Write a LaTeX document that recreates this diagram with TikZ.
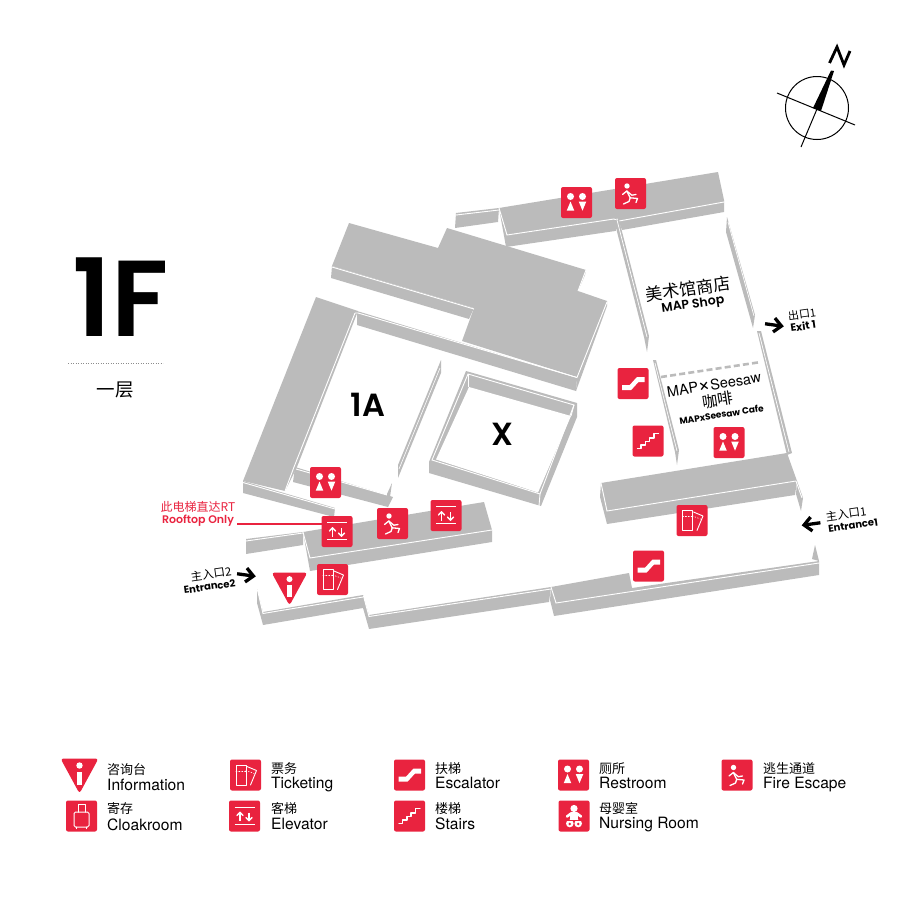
\documentclass[tikz,border=0pt]{standalone}
\usepackage{fontspec}
\setmainfont{TeX Gyre Heros}
\newfontfamily\cjk{Noto Sans CJK SC}
\newfontfamily\pop{Poppins}
\newfontfamily\popsb{Poppins SemiBold}
\definecolor{wallgrey}{HTML}{BBBBBB}
\definecolor{signred}{HTML}{E9233F}
\newcommand{\fsz}[1]{\fontsize{#1}{#1}\selectfont}
\tikzset{
  wall/.style={fill=wallgrey,draw=none},
  seam/.style={draw=white,line width=.9pt},
  inner/.style={fill=white,draw=none},
  wln/.style={draw=white,line width=1.2pt,line cap=round,line join=round},
  wfill/.style={fill=white,draw=none},
  iconbox/.style={fill=signred,rounded corners=2pt,draw=none},
  lab/.style={inner sep=0pt,anchor=center,align=center},
  legzh/.style={inner sep=0pt,anchor=base west,font=\cjk\fsz{13}},
  legen/.style={inner sep=0pt,anchor=base west,font=\fsz{15.6}},
  pics/iconrest/.style={code={
    \fill[iconbox] (-15.5,-15.5) rectangle (15.5,15.5);
    \fill[wfill] (-6,-6) circle (3.5) (6,-6) circle (3.5);
    \fill[wfill] (-9.8,8.2) -- (-2.2,8.2) -- (-6,-1) -- cycle;
    \fill[wfill] (2.2,-1) -- (9.8,-1) -- (6,8.2) -- cycle;
  }},
  pics/iconfire/.style={code={
    \fill[iconbox] (-15.5,-15.5) rectangle (15.5,15.5);
    \fill[wfill] (-3.5,-7.5) circle (2.7);
    \draw[wln,line width=1.3pt] (-8,1) -- (-3.7,-2.5) -- (-0.3,4.3) -- (7,5) -- (5.5,9);
    \draw[wln,line width=1.3pt] (-3.7,-2.5) -- (1.3,1.7) -- (5.5,1);
    \draw[wln,line width=1.3pt] (-0.3,4.3) -- (-1.5,8) -- (-7,10.5);
  }},
  pics/iconesc/.style={code={
    \fill[iconbox] (-15.5,-15.5) rectangle (15.5,15.5);
    \fill[wfill] (-11,1.7) -- (-3.5,1.7) -- (4,-6.5) -- (11.5,-6.5) -- (11.5,-1.5) -- (5.5,-1.5) -- (-2,6.7) -- (-11,6.7) -- cycle;
  }},
  pics/iconstairs/.style={code={
    \fill[iconbox] (-15.5,-15.5) rectangle (15.5,15.5);
    \draw[wln] (-10.5,7.5) -- (-7,7.5) -- (-7,4) -- (-2.5,4) -- (-2.5,0.5) -- (1.5,0.5) -- (1.5,-3) -- (6,-3) -- (6,-7.5) -- (10.5,-7.5);
  }},
  pics/iconelev/.style={code={
    \fill[iconbox] (-15.5,-15.5) rectangle (15.5,15.5);
    \draw[wln,line cap=butt] (-10,-8.7) -- (10,-8.7) (-10,8.2) -- (10,8.2);
    \draw[wln,line cap=butt,line width=1.4pt] (-4.5,5) -- (-4.5,-3) (4.5,-3.5) -- (4.5,4.5);
    \draw[wln,line width=1.4pt] (-7.5,-0.5) -- (-4.5,-3.7) -- (-1.5,-0.5) (1.5,1.5) -- (4.5,4.7) -- (7.5,1.5);
  }},
  pics/iconticket/.style={code={
    \fill[iconbox] (-15.5,-15.5) rectangle (15.5,15.5);
    \draw[wln,line width=.9pt] (-9.5,-10) rectangle (0.5,10);
    \draw[wln,line width=.9pt,dotted] (-9.5,-4) -- (0.5,-4);
    \draw[wln,line width=.9pt] (1.5,-8.5) -- (11,-4.5) -- (5,10);
    \draw[wln,line width=.7pt,dotted] (0.5,-4.5) -- (8.5,-1.5);
  }},
  pics/iconbag/.style={code={
    \fill[iconbox] (-15.5,-15.5) rectangle (15.5,15.5);
    \draw[wln,line width=1pt,rounded corners=1.5pt] (-7.5,-4) rectangle (7.5,11);
    \draw[wln,line width=1pt] (-3.5,-4) -- (-3.5,-11.5) -- (3.5,-11.5) -- (3.5,-4);
    \draw[wln,line width=1pt] (-5,11) -- (-5,12.5) (5,11) -- (5,12.5);
  }},
  pics/iconbaby/.style={code={
    \fill[iconbox] (-15.5,-15.5) rectangle (15.5,15.5);
    \fill[wfill] (0,-7.5) circle (3.6);
    \draw[wln,line width=2.6pt] (-7,0.5) -- (-3,-2.5) -- (3,-2.5) -- (7,0.5);
    \fill[wfill] (-4.2,-3) rectangle (4.2,3.5);
    \fill[wfill] (-4.2,7.5) circle (3.8) (4.2,7.5) circle (3.8);
    \fill[signred] (-4.2,8) circle (1.4) (4.2,8) circle (1.4);
    \draw[signred,line width=.8pt] (-7,4) -- (7,4);
  }},
  pics/iconinfo/.style={code={
    \fill[signred,rounded corners=3pt] (-19,-1) -- (19,-1) -- (0,34) -- cycle;
    \fill[wfill] (0,6) circle (3.2);
    \fill[wfill] (-2.5,12.5) rectangle (2.5,25);
  }},
  pics/guidearrow/.style={code={
    \draw[black,line width=3.3pt,line join=miter] (-9,0) -- (7,0);
    \draw[black,line width=3.3pt,line join=miter] (0,-7) -- (7.5,0) -- (0,7);
  }}
}
\begin{document}
\begin{tikzpicture}[x=1pt,y=-1pt]
\useasboundingbox (0,0) rectangle (900,900);

% upper block
\fill[wall] (349,223) -- (438,248) -- (447,228) -- (586,270) -- (578,291) -- (607,301) -- (577,377) -- (462,341) -- (474,308) -- (332,266) -- cycle;
\fill[wall] (332,266) -- (474,308) -- (469,319) -- (331,278) -- cycle;
\fill[wall] (586,270) -- (585,275) -- (578,291) -- cycle;
\fill[wall] (357,311) -- (577,378) -- (576,391) -- (357,325) -- cycle;
\fill[wall] (607,301) -- (607,306) -- (576,391) -- (577,377) -- cycle;
\draw[seam] (332,267) -- (474,309);
\draw[seam] (358,313) -- (577,377.5) -- (607,302);
\draw[seam] (586,270) -- (578,291);

% L block
\fill[wall] (316,297) -- (358,311) -- (297,467) -- (285,491) -- (243,481) -- cycle;
\fill[wall] (243,481) -- (335,508) -- (334,517) -- (243,493) -- cycle;
\draw[seam] (243,482.5) -- (335,509);
\draw[seam] (355,313) -- (358,313) (355,313) -- (294,467);
\fill[wall] (295,467) -- (393,497) -- (388,507) -- (293,482) -- cycle;
\draw[seam] (296,469) -- (387,495) -- (391,485);
\fill[wall] (392,483) -- (390,497) -- (387,507) -- (387,494) -- cycle;
\draw[seam] (294,467) -- (285,491);
% thin wall 1A right
\fill[wall] (441,360) -- (441,373) -- (398,478) -- (398,465) -- cycle;
\draw[draw=white,line width=.6pt] (440,368) -- (399,469);

% X room
\fill[wall] (466,371) -- (577,403) -- (577,417) -- (541,506) -- (429,473) -- (429,462) -- cycle;
\fill[inner] (469,387) -- (571,416) -- (538,492.5) -- (436,459.5) -- cycle;
\draw[seam] (468,374) -- (574,405) -- (540,494) -- (432,460) -- cycle;
\draw[seam] (540,494) -- (539,506);
\draw[seam] (468,374) -- (468,387);
\draw[seam] (574,405) -- (571,416);

% top corridor
\fill[wall] (456,213) -- (499,208) -- (498,222) -- (455,228) -- cycle;
\draw[seam] (456,215) -- (499,210);
\fill[wall] (499,208) -- (718,172) -- (724,200) -- (724,212) -- (622,230) -- (506,247) -- cycle;
\draw[seam] (499,208) -- (507,235) -- (614,219) -- (619,221) -- (724,202);
\fill[inner] (616,232) -- (622,230) -- (617,218) -- cycle;
% shop walls
\fill[wall] (614,220) -- (619,220) -- (649,336) -- (647,352) -- (644,337) -- cycle;
\draw[draw=white,line width=.7pt] (617,220) -- (647,337);
\fill[wall] (727,217) -- (755,315) -- (753,328) -- (726,232) -- cycle;
\draw[draw=white,line width=.7pt] (728,222) -- (754,316);
% cafe walls
\fill[wall] (653,360) -- (656,360) -- (679,450) -- (677,465) -- (675,452) -- cycle;
\draw[draw=white,line width=.7pt] (655,363) -- (677,451);
\fill[wall] (757,331) -- (761,331) -- (792,453) -- (787,455) -- cycle;
\draw[draw=white,line width=.7pt] (759,333) -- (789,452);
\draw[wallgrey,line width=2.6pt,dash pattern=on 6pt off 3.2pt] (661,377) -- (761,362);

% mid right block
\fill[wall] (601,483) -- (787,453) -- (797,481) -- (795,495) -- (607,524) -- (600,497) -- cycle;
\draw[seam] (601,483) -- (607,511) -- (796,481);
\fill[wall] (797,481) -- (803,498) -- (801,511) -- (796,494) -- cycle;
\draw[seam] (796,481) -- (802,498);

% entrance-side block
\fill[wall] (246,539) -- (303,532) -- (303,545) -- (246,554) -- cycle;
\draw[seam] (246,541) -- (303,533);
\fill[wall] (303,532) -- (484,502) -- (492,530) -- (492,542) -- (310,571) -- cycle;
\draw[seam] (303,532) -- (310,558) -- (492,530);

% bottom wall
\fill[wall] (257,589) -- (263,612) -- (363,595) -- (363,608) -- (263,625) -- (257,603) -- cycle;
\draw[seam] (257.5,590) -- (263,613.5) -- (363,597);
\fill[wall] (363,595) -- (369,615) -- (551,587) -- (549,602) -- (369,629) -- (363,608) -- cycle;
\draw[seam] (363.5,596) -- (369,616.5) -- (551,589);
\fill[wall] (551,587) -- (629,573) -- (632,588) -- (819,561) -- (819,575) -- (554,616) -- (550,600) -- cycle;
\draw[seam] (551,587) -- (556,603) -- (819,563);
\fill[wall] (815,545) -- (819,561) -- (812,559) -- cycle;

% compass
\draw[black,line width=1pt] (817,108) circle (31.5);
\coordinate (compW) at (777,93);
\coordinate (compE) at (855,125);
\coordinate (compS) at (801,147);
\coordinate (compC) at (817,109);
\draw[black,line width=1pt] (compW) -- (compE);
\draw[black,line width=1pt] (compS) -- (compC);
\fill[black] (813,108) -- (831,70.5) -- (834,71) -- (821,111) -- cycle;
\draw[black,line width=2.8pt,line join=miter] (829.5,63) -- (837,47) -- (844,65) -- (850,51);

% big title
\node[lab] (title) at (120.5,297.5) {\popsb\fsz{108}1F};
\coordinate (dotA) at (68,363);
\coordinate (dotB) at (163,363);
\draw[black!45,line width=.5pt,dotted] (dotA) -- (dotB);
\node[lab] (titlezh) at (115,390) {\cjk\fsz{18.5}一层};

\node[lab] (roomA) at (368,405) {\popsb\fsz{32}1A};
\node[lab] (roomX) at (502,434) {\popsb\fsz{32}X};

\node[lab,rotate=8] (shopzh) at (688,289) {\cjk\fsz{17}美术馆商店};
\node[lab,rotate=8] (shopen) at (693,305) {\popsb\fsz{12.5}MAP Shop};
\node[lab,rotate=9] (cafea) at (714,384.5) {\fsz{14.5}MAP{\fsz{21}×}Seesaw};
\node[lab,rotate=9] (cafeb) at (718,400) {\cjk\fsz{15.5}咖啡};
\node[lab,rotate=9] (cafec) at (721.5,414.5) {\pop\bfseries\fsz{9}MAPxSeesaw Cafe};

\node[lab,rotate=8] (exitzh) at (802,314) {\cjk\fsz{11}出口1};
\node[lab,rotate=8] (exiten) at (803,326) {\pop\bfseries\fsz{10.5}Exit 1};
\pic[rotate=-8] at (774,325) {guidearrow};

\node[lab,rotate=8] (ent1zh) at (846,514) {\cjk\fsz{11.5}主入口1};
\node[lab,rotate=8] (ent1en) at (853,525.5) {\pop\bfseries\fsz{10}Entrance1};
\pic[rotate=188] at (811.5,524) {guidearrow};

\node[lab,rotate=8] (ent2zh) at (211,574) {\cjk\fsz{11.5}主入口2};
\node[lab,rotate=8] (ent2en) at (209.5,586.5) {\pop\bfseries\fsz{10}Entrance2};
\pic[rotate=-8] at (246,575) {guidearrow};

% rooftop note
\node[lab,text=signred] (rtzh) at (198,507) {\cjk\fsz{12}此电梯直达RT};
\node[lab,text=signred] (rten) at (198,521) {\popsb\fsz{11}Rooftop Only};
\pic at (337,531.5) {iconelev};
\coordinate (rtline) at (237,524);
\coordinate (rtend) at (322,524);
\draw[signred,line width=1.1pt] (rtline) -- (rtend);

% icons on the plan
\pic at (576.5,202.5) {iconrest};
\pic at (630.5,193.5) {iconfire};
\pic at (633,383.5) {iconesc};
\pic at (648,441) {iconstairs};
\pic at (729,442.5) {iconrest};
\pic at (692,520.5) {iconticket};
\pic at (648.5,566) {iconesc};
\pic at (325.5,482.5) {iconrest};
\pic at (392.5,523.5) {iconfire};
\pic at (446,515.5) {iconelev};
\pic at (332.5,579.5) {iconticket};
\pic[scale=.94] at (289.5,573.5) {iconinfo};

% legend
\pic at (79.5,759.5) {iconinfo};
\pic at (81.5,816) {iconbag};
\pic at (245.5,775) {iconticket};
\pic at (244.5,816) {iconelev};
\pic at (409.5,775) {iconesc};
\pic at (409.5,816) {iconstairs};
\pic at (573.5,775) {iconrest};
\pic at (574,816) {iconbaby};
\pic at (737,775) {iconfire};

\node[legzh] (l1a) at (107,774) {咨询台};
\node[legen] (l1b) at (107,790) {Information};
\node[legzh] (l2a) at (107,813) {寄存};
\node[legen] (l2b) at (107,830) {Cloakroom};
\node[legzh] (l3a) at (271,773) {票务};
\node[legen] (l3b) at (271,788) {Ticketing};
\node[legzh] (l4a) at (271,813) {客梯};
\node[legen] (l4b) at (271,829) {Elevator};
\node[legzh] (l5a) at (435,773) {扶梯};
\node[legen] (l5b) at (435,788) {Escalator};
\node[legzh] (l6a) at (435,813) {楼梯};
\node[legen] (l6b) at (435,829) {Stairs};
\node[legzh] (l7a) at (599,773) {厕所};
\node[legen] (l7b) at (599,788) {Restroom};
\node[legzh] (l8a) at (599,813) {母婴室};
\node[legen] (l8b) at (599,828) {Nursing Room};
\node[legzh] (l9a) at (763,773) {逃生通道};
\node[legen] (l9b) at (763,788) {Fire Escape};
\end{tikzpicture}
\end{document}
